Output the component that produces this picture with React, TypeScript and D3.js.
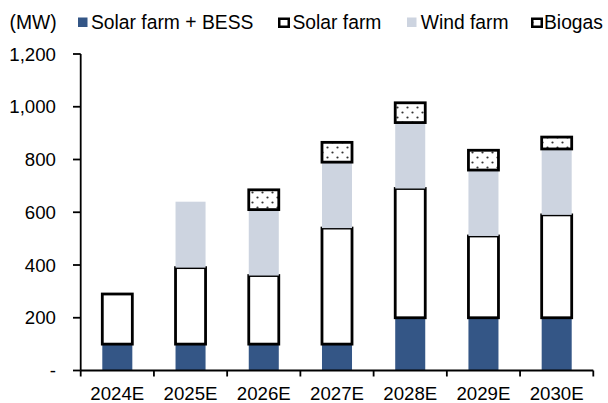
import React from "react";
import * as d3 from "d3";

const categories = ["2024E", "2025E", "2026E", "2027E", "2028E", "2029E", "2030E"];
const solarBess = [100, 100, 100, 100, 200, 200, 200];
const solarFarm = [190, 290, 260, 440, 490, 310, 390];
const windFarm = [0, 250, 250, 250, 250, 250, 250];
const biogas = [0, 0, 75, 75, 75, 75, 45];
const yTicks = [0, 200, 400, 600, 800, 1000, 1200];
const seriesNames = ["Solar farm + BESS", "Solar farm", "Wind farm", "Biogas"];

const W = 608;
const H = 403;
const FONT = "'Liberation Sans', Arial, sans-serif";
const FS = 18.67;
const LFS = 19.3;
const BLUE = "#345686";
const WIND = "#CDD4E0";

export default function App() {
  const x = d3.scaleBand<string>().domain(categories).range([80.7, 593.3]).padding(0);
  const y = d3.scaleLinear().domain([0, 1200]).range([370.5, 54]);
  const barW = x.bandwidth() * 0.41;
  const fmt = (v: number) => (v === 0 ? "-" : d3.format(",")(v));

  const rows = categories.map((c, i) => ({
    cat: c,
    s0: solarBess[i],
    s1: solarFarm[i],
    s2: windFarm[i],
    s3: biogas[i],
  }));
  const stack = d3.stack<any>().keys(["s0", "s1", "s2", "s3"])(rows);

  const legendX = [78, 278, 407, 531];
  const legendTextX = [91, 292.5, 420.7, 544];

  const fills = [BLUE, "#ffffff", WIND, "url(#dots)"];
  const strokes = ["none", "#000", "none", "#000"];

  return (
    <svg
      width={W}
      height={H}
      style={{ position: "absolute", left: 0, top: 0, background: "#fff" }}
      fontFamily={FONT}
      fontSize={FS}
    >
      <defs>
        <pattern id="dots" width={10} height={10} patternUnits="userSpaceOnUse">
          <rect width={10} height={10} fill="#fff" />
          <circle cx={2.5} cy={2.5} r={1.1} fill="#333" />
          <circle cx={7.5} cy={7.5} r={1.1} fill="#333" />
        </pattern>
      </defs>

      {/* legend */}
      <text x={9.5} y={28.5} fill="#000" fontSize={LFS}>(MW)</text>
      {seriesNames.map((n, i) => (
        <g key={n}>
          <rect
            x={legendX[i] + (strokes[i] === "none" ? 0 : 1.25)}
            y={17.5 + (strokes[i] === "none" ? 0 : 1.25)}
            width={9.5}
            height={strokes[i] === "none" ? 9.5 : 8}
            fill={fills[i]}
            stroke={strokes[i]}
            strokeWidth={2.5}
          />
          <text x={legendTextX[i]} y={28.5} fill="#000" fontSize={LFS}>{n}</text>
        </g>
      ))}

      {/* bars */}
      {stack.map((layer, si) =>
        layer.map((d, i) => {
          const v = d[1] - d[0];
          if (v <= 0) return null;
          const cx = (x(categories[i]) as number) + x.bandwidth() / 2;
          const y0 = y(d[0]);
          const y1 = y(d[1]);
          return (
            <rect
              key={`${si}-${i}`}
              x={cx - barW / 2}
              y={y1}
              width={barW}
              height={y0 - y1}
              fill={fills[si]}
              stroke={strokes[si]}
              strokeWidth={2.8}
            />
          );
        })
      )}

      {/* y axis */}
      <line x1={80.7} x2={80.7} y1={54} y2={370.5} stroke="#000" strokeWidth={1.8} />
      {yTicks.map((t) => (
        <g key={t}>
          <line x1={73} x2={80.7} y1={y(t)} y2={y(t)} stroke="#000" strokeWidth={1.8} />
          <text x={56} y={y(t) + 6.7} textAnchor="end" fill="#000">{fmt(t)}</text>
        </g>
      ))}

      {/* x axis */}
      <line x1={80.7} x2={593.3} y1={370.5} y2={370.5} stroke="#000" strokeWidth={1.8} />
      {categories.map((c) => (
        <line
          key={`t${c}`}
          x1={x(c) as number}
          x2={x(c) as number}
          y1={370.5}
          y2={376.5}
          stroke="#000"
          strokeWidth={1.8}
        />
      ))}
      <line x1={593.3} x2={593.3} y1={370.5} y2={376.5} stroke="#000" strokeWidth={1.8} />
      {categories.map((c) => (
        <text
          key={`l${c}`}
          x={(x(c) as number) + x.bandwidth() / 2}
          y={400}
          textAnchor="middle"
          fill="#000"
        >
          {c}
        </text>
      ))}
    </svg>
  );
}
